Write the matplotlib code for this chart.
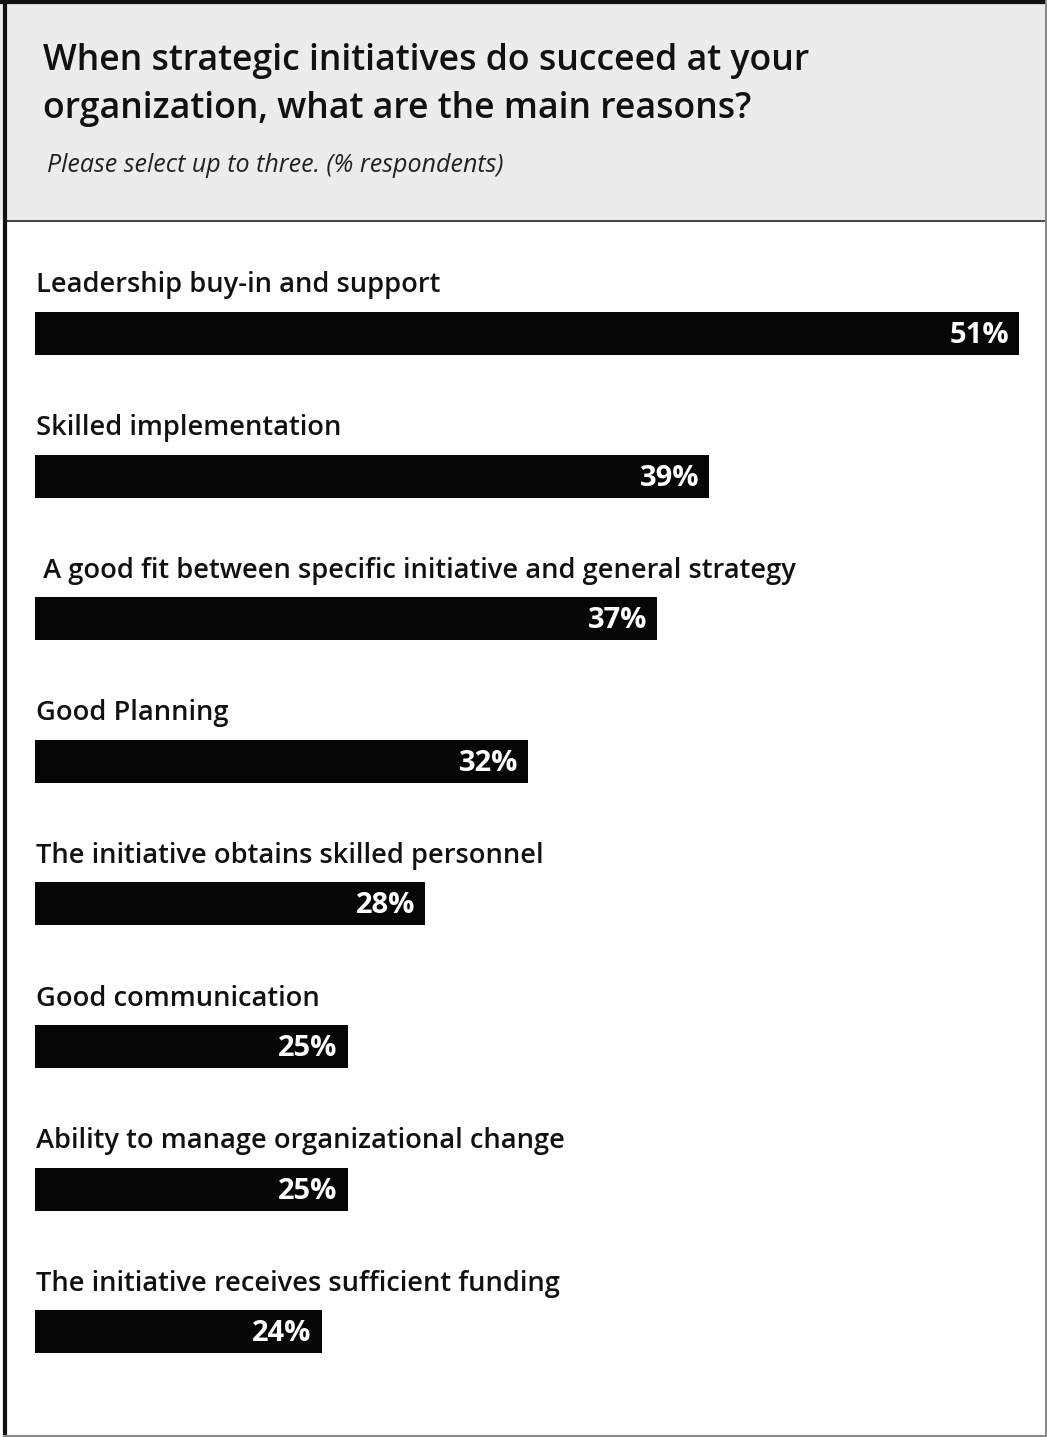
import matplotlib
matplotlib.use("Agg")
import matplotlib.pyplot as plt
from matplotlib.lines import Line2D
from matplotlib.patches import Rectangle
import matplotlib.transforms as mtransforms

categories = [
    "Leadership buy-in and support",
    "Skilled implementation",
    " A good fit between specific initiative and general strategy",
    "Good Planning",
    "The initiative obtains skilled personnel",
    "Good communication",
    "Ability to manage organizational change",
    "The initiative receives sufficient funding",
]
values = [51, 39, 37, 32, 28, 25, 25, 24]
value_labels = [f"{v}%" for v in values]

title_lines = ["When strategic initiatives do succeed at your",
               "organization, what are the main reasons?"]
subtitle = "Please select up to three. (% respondents)"

W, H = 1047, 1437
plt.rcParams["font.family"] = ["Open Sans", "DejaVu Sans"]

fig = plt.figure(figsize=(W / 100, H / 100), dpi=100)
fig.patch.set_facecolor("white")


def fx(px):
    return px / W


def fy(py):
    return 1 - py / H


# header band and frame
fig.add_artist(Rectangle((0, fy(220)), 1, 220 / H, transform=fig.transFigure,
                         facecolor="#ececee", edgecolor="none", zorder=0))
fig.add_artist(Line2D([fx(4), fx(1046)], [fy(220.5), fy(220.5)],
                      transform=fig.transFigure, color="#4a4a4a", lw=1.5))
fig.add_artist(Line2D([fx(4.5), fx(4.5)], [fy(0), fy(1437)],
                      transform=fig.transFigure, color="#111111", lw=3))
fig.add_artist(Line2D([fx(0), fx(1047)], [fy(2), fy(2)],
                      transform=fig.transFigure, color="#111111", lw=3))
fig.add_artist(Line2D([fx(1045.5), fx(1045.5)], [fy(0), fy(1437)],
                      transform=fig.transFigure, color="#8a8a8a", lw=1.5))
fig.add_artist(Line2D([fx(4), fx(1047)], [fy(1435.5), fy(1435.5)],
                      transform=fig.transFigure, color="#8a8a8a", lw=1.5))

for i, line in enumerate(title_lines):
    fig.text(fx(43), fy(70 + 48 * i), line, fontsize=25.7, fontweight="semibold",
             color="#111111", va="baseline", ha="left")
fig.text(fx(47), fy(171.5), subtitle, fontsize=18, style="italic",
         color="#222222", va="baseline", ha="left")

# bars
unit = 142.6
top_px = 333.5 - 0.75 * unit
bot_px = 333.5 + 7.5 * unit
ax = fig.add_axes([fx(35), 1 - bot_px / H, fx(1019) - fx(35), (bot_px - top_px) / H])
ax.set_facecolor("none")
y = list(range(len(categories)))
ax.barh(y, values, height=43 / unit, color="#060606")
ax.set_xlim(12.9, 51)
ax.set_ylim(7.5, -0.75)
ax.axis("off")

lab_tr = mtransforms.blended_transform_factory(ax.transAxes, ax.transData)
for i, (cat, v, vl) in enumerate(zip(categories, values, value_labels)):
    ax.text(0.001, i - 48 / unit, cat, transform=lab_tr, fontsize=19.6,
            fontweight="semibold", color="#111111", ha="left", va="center")
    off = mtransforms.offset_copy(ax.transData, fig=fig, x=-10, y=-2, units="dots")
    ax.text(v, i, vl, transform=off, fontsize=21, fontweight="bold",
            color="white", ha="right", va="center")

fig.savefig("out.png", dpi=100)
